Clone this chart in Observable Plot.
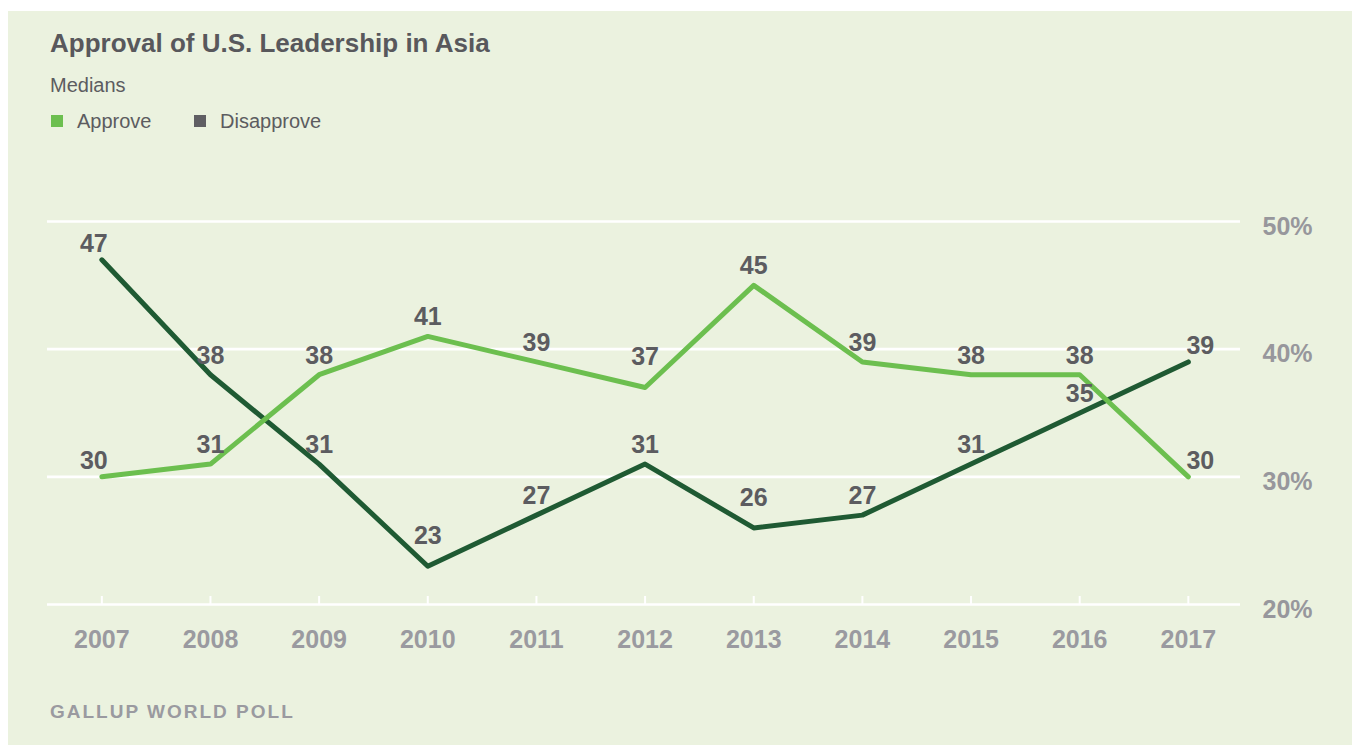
<!DOCTYPE html>
<html>
<head>
<meta charset="utf-8">
<script src="https://cdn.jsdelivr.net/npm/d3@7"></script>
<script src="https://cdn.jsdelivr.net/npm/@observablehq/plot@0.6"></script>
<style>
  html, body { margin: 0; padding: 0; background: #ffffff; }
  body { width: 1353px; height: 745px; overflow: hidden; position: relative; font-family: "Liberation Sans", Arial, sans-serif; }
  #panel { position: absolute; left: 8px; top: 11px; width: 1344px; height: 740px; background: #ebf2df; }
  .abs { position: absolute; white-space: nowrap; line-height: 1; }
  #title { left: 42px; top: 19px; font-size: 26px; font-weight: bold; color: #58585c; }
  #subtitle { left: 42px; top: 64px; font-size: 20px; color: #5c5c60; }
  .sw { position: absolute; width: 12px; height: 12px; }
  .lg { font-size: 20px; color: #5c5c60; top: 100px; }
  #caption { left: 42px; top: 691px; font-size: 19px; font-weight: bold; color: #9a9aa0; letter-spacing: 2px; }
  #chart { position: absolute; left: 0; top: 159px; }
</style>
</head>
<body>
<div id="panel">
  <div id="title" class="abs">Approval of U.S. Leadership in Asia</div>
  <div id="subtitle" class="abs">Medians</div>
  <div class="sw" style="left:43px; top:104px; background:#6cbf4f;"></div>
  <div class="abs lg" style="left:69px;">Approve</div>
  <div class="sw" style="left:186px; top:104px; background:#5f5f63;"></div>
  <div class="abs lg" style="left:212px;">Disapprove</div>
  <div id="chart"></div>
  <div id="caption" class="abs">GALLUP WORLD POLL</div>
</div>
<script>
const years = [2007, 2008, 2009, 2010, 2011, 2012, 2013, 2014, 2015, 2016, 2017];
const approve = [30, 31, 38, 41, 39, 37, 45, 39, 38, 38, 30];
const disapprove = [47, 38, 31, 23, 27, 31, 26, 27, 31, 35, 39];
const yTicks = [20, 30, 40, 50];
const seriesNames = ["Approve", "Disapprove"];
const seriesColors = ["#6cbf4f", "#1f5a33"];

const rows = [];
[disapprove, approve].forEach((vals, k) => {
  const name = k === 0 ? "Disapprove" : "Approve";
  vals.forEach((v, i) => {
    const prev = i > 0 ? vals[i - 1] : Infinity;
    const next = i < vals.length - 1 ? vals[i + 1] : Infinity;
    rows.push({year: years[i], value: v, series: name, idx: i, trough: v < prev && v < next});
  });
});
const n = years.length;
const labelFill = "#5c5c60";
const firstRows = rows.filter(d => d.idx === 0);
const lastRows = rows.filter(d => d.idx === n - 1);
const midRows = rows.filter(d => d.idx > 0 && d.idx < n - 1 && !d.trough);
const troughRows = rows.filter(d => d.idx > 0 && d.idx < n - 1 && d.trough);

const plot = Plot.plot({
  width: 1344,
  height: 500,
  marginTop: 51,
  marginBottom: 66,
  marginLeft: 39,
  marginRight: 112,
  style: {background: "transparent", fontFamily: "'Liberation Sans', Arial, sans-serif", fontSize: "25px", fontWeight: "bold", overflow: "visible"},
  x: {domain: [2006.5, 2017.48], label: null},
  y: {domain: [yTicks[0], yTicks[yTicks.length - 1]], label: null},
  marks: [
    Plot.ruleY(yTicks, {stroke: "#ffffff", strokeWidth: 2.6}),
    Plot.ruleX(years, {x: d => d, y1: yTicks[0], y2: yTicks[0], insetTop: -8, stroke: "#ffffff", strokeWidth: 2}),
    Plot.axisX(years, {tickSize: 0, tickPadding: 26, tickFormat: d => String(d), fill: "#9a9aa0", label: null}),
    Plot.axisY(yTicks, {anchor: "right", tickSize: 0, tickPadding: 22, tickFormat: d => d + "%", fill: "#97979c", dy: 5, label: null}),
    Plot.line(rows.filter(d => d.series === "Disapprove"), {x: "year", y: "value", stroke: seriesColors[1], strokeWidth: 5, strokeLinecap: "round", strokeLinejoin: "round"}),
    Plot.line(rows.filter(d => d.series === "Approve"), {x: "year", y: "value", stroke: seriesColors[0], strokeWidth: 5, strokeLinecap: "round", strokeLinejoin: "round"}),
    Plot.text(firstRows, {x: "year", y: "value", text: d => String(d.value), dy: -16, dx: -8, fill: labelFill}),
    Plot.text(lastRows, {x: "year", y: "value", text: d => String(d.value), dy: -16, dx: 12, fill: labelFill}),
    Plot.text(midRows, {x: "year", y: "value", text: d => String(d.value), dy: -19, fill: labelFill}),
    Plot.text(troughRows, {x: "year", y: "value", text: d => String(d.value), dy: -30, fill: labelFill})
  ]
});
document.getElementById("chart").appendChild(plot);
</script>
</body>
</html>
